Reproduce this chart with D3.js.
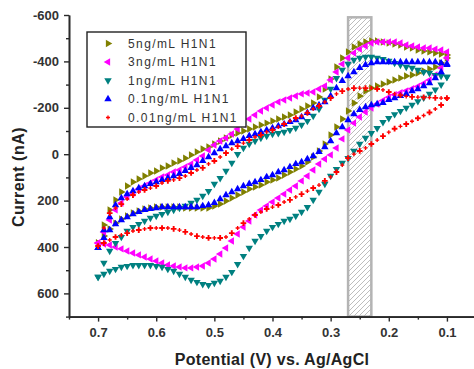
<!DOCTYPE html>
<html>
<head>
<meta charset="utf-8">
<script src="https://cdn.jsdelivr.net/npm/d3@7"></script>
<style>
  html, body { margin: 0; padding: 0; background: #fff; }
  svg { display: block; font-family: Arial, "Liberation Sans", sans-serif; }
</style>
</head>
<body>
<svg id="chart" width="474" height="369"></svg>
<script>
// scan potentials (V), shared by every branch
const potentials = [
  0.70, 0.69, 0.68, 0.67, 0.66, 0.65, 0.64, 0.63, 0.62, 0.61,
  0.60, 0.59, 0.58, 0.57, 0.56, 0.55, 0.54, 0.53, 0.52, 0.51,
  0.50, 0.49, 0.48, 0.47, 0.46, 0.45, 0.44, 0.43, 0.42, 0.41,
  0.40, 0.39, 0.38, 0.37, 0.36, 0.35, 0.34, 0.33, 0.32, 0.31,
  0.30, 0.29, 0.28, 0.27, 0.26, 0.25, 0.24, 0.23, 0.22, 0.21,
  0.20, 0.19, 0.18, 0.17, 0.16, 0.15, 0.14, 0.13, 0.12, 0.11,
  0.10
];

// current (nA), upper (cathodic) and lower branches of each loop
const fiveUpper = [
  383, 305, 240, 197, 163, 137, 120, 107, 94, 81,
  72, 59, 51, 38, 29, 17, 3, -10, -22, -31,
  -44, -57, -70, -83, -91, -100, -109, -117, -126, -134,
  -143, -152, -160, -169, -182, -195, -208, -221, -247, -281,
  -324, -376, -415, -441, -462, -475, -484, -488, -488, -484,
  -479, -475, -471, -462, -458, -449, -445, -441, -436, -432,
  -428
];
const fiveLower = [
  383, 353, 322, 297, 279, 266, 253, 245, 236, 232,
  228, 228, 228, 228, 228, 232, 232, 232, 232, 232,
  223, 215, 202, 189, 176, 163, 150, 141, 133, 120,
  111, 103, 90, 77, 64, 51, 34, 12, -14, -44,
  -83, -117, -152, -186, -221, -251, -272, -285, -294, -303,
  -311, -320, -328, -337, -341, -350, -359, -367, -376, -393,
  -415
];
const threeUpper = [
  383, 335, 284, 240, 210, 184, 167, 150, 137, 124,
  111, 98, 90, 77, 68, 55, 42, 25, 8, -18,
  -40, -57, -70, -87, -109, -130, -152, -169, -186, -199,
  -212, -225, -234, -242, -251, -260, -264, -268, -281, -294,
  -320, -354, -389, -415, -436, -453, -466, -479, -484, -484,
  -484, -484, -479, -471, -466, -462, -458, -458, -453, -449,
  -441
];
const threeLower = [
  383, 387, 391, 400, 408, 417, 426, 434, 443, 452,
  460, 469, 478, 482, 486, 490, 490, 486, 482, 469,
  452, 430, 404, 374, 344, 314, 288, 262, 240, 223,
  206, 189, 172, 154, 137, 115, 94, 68, 42, 21,
  3, -27, -66, -104, -134, -160, -182, -199, -216, -232,
  -246, -256, -265, -273, -282, -292, -305, -320, -341, -372,
  -415
];
const oneUpper = [
  529, 469, 417, 383, 357, 331, 314, 301, 288, 275,
  266, 258, 249, 240, 232, 223, 210, 197, 180, 159,
  128, 103, 72, 38, 0, -27, -44, -57, -70, -79,
  -87, -91, -96, -104, -113, -126, -143, -165, -195, -234,
  -281, -328, -363, -389, -406, -415, -419, -419, -415, -410,
  -402, -393, -385, -376, -372, -363, -354, -350, -341, -337,
  -333
];
const oneLower = [
  529, 516, 503, 495, 486, 482, 478, 478, 478, 478,
  482, 486, 495, 503, 516, 529, 542, 551, 560, 564,
  555, 546, 529, 508, 474, 439, 404, 374, 353, 331,
  314, 301, 288, 279, 266, 249, 228, 197, 163, 128,
  94, 64, 38, 17, -14, -44, -70, -91, -112, -138,
  -155, -172, -186, -200, -213, -228, -243, -260, -278, -300,
  -333
];
const pointOneUpper = [
  404, 327, 271, 219, 189, 172, 159, 146, 137, 128,
  120, 111, 103, 94, 85, 72, 59, 47, 29, 12,
  -5, -22, -35, -48, -57, -66, -79, -87, -96, -104,
  -113, -121, -130, -139, -147, -160, -178, -199, -212, -225,
  -251, -285, -316, -337, -354, -372, -385, -393, -397, -397,
  -397, -397, -397, -397, -397, -397, -397, -397, -397, -393,
  -389
];
const pointOneLower = [
  404, 361, 327, 301, 284, 271, 258, 249, 240, 236,
  232, 228, 228, 228, 228, 228, 228, 228, 223, 219,
  210, 193, 176, 163, 150, 137, 128, 120, 111, 98,
  90, 77, 68, 55, 42, 34, 21, 8, -10, -31,
  -57, -91, -117, -147, -173, -191, -203, -212, -216, -221,
  -234, -242, -251, -260, -272, -281, -294, -307, -328, -354,
  -385
];
const pointZeroOneUpper = [
  396, 318, 254, 232, 215, 193, 176, 163, 154, 146,
  137, 124, 115, 111, 103, 94, 81, 68, 59, 42,
  29, 12, -5, -22, -35, -48, -61, -74, -83, -96,
  -104, -117, -130, -143, -156, -165, -178, -195, -208, -225,
  -242, -260, -272, -281, -285, -285, -285, -285, -281, -277,
  -268, -260, -254, -249, -247, -246, -245, -244, -243, -242,
  -242
];
const pointZeroOneLower = [
  396, 383, 370, 357, 348, 340, 331, 327, 322, 318,
  318, 318, 318, 322, 327, 335, 344, 353, 357, 361,
  361, 361, 357, 340, 318, 297, 279, 262, 249, 236,
  228, 219, 206, 197, 184, 172, 159, 146, 133, 115,
  98, 77, 47, 17, 0, -14, -27, -44, -61, -78,
  -95, -110, -120, -130, -142, -155, -167, -180, -195, -212,
  -238
];

const seriesNames = ["5ng/mL H1N1", "3ng/mL H1N1", "1ng/mL H1N1", "0.1ng/mL H1N1", "0.01ng/mL H1N1"];
const seriesUpper = [fiveUpper, threeUpper, oneUpper, pointOneUpper, pointZeroOneUpper];
const seriesLower = [fiveLower, threeLower, oneLower, pointOneLower, pointZeroOneLower];

const xTicks = [0.7, 0.6, 0.5, 0.4, 0.3, 0.2, 0.1];
const xMinorTicks = [0.75, 0.65, 0.55, 0.45, 0.35, 0.25, 0.15];
const yTicks = [-600, -400, -200, 0, 200, 400, 600];
const yMinorTicks = [-500, -300, -100, 100, 300, 500, 700];

// shaded potential window
const windowRange = [0.27, 0.23];
const windowTop = -590;

const seriesColors = ["#808000", "#ff00ff", "#008080", "#0000ff", "#ff0000"];
// red crosses alternate between a big and a small glyph, like the original export
const markerShapes = [
  { type: d3.symbolTriangle, sizes: [24], rotate: 90 },
  { type: d3.symbolTriangle, sizes: [24], rotate: -90 },
  { type: d3.symbolTriangle, sizes: [24], rotate: 180 },
  { type: d3.symbolTriangle, sizes: [24], rotate: 0 },
  { type: d3.symbolCross, sizes: [18, 9], rotate: 0 },
];

const svg = d3.select("#chart");
const x = d3.scaleLinear().domain([0.75, 0.05]).range([69, 476]);
const y = d3.scaleLinear().domain([-600, 700]).range([15, 316.6]);

const defs = svg.append("defs");
defs.append("pattern")
  .attr("id", "hatch")
  .attr("patternUnits", "userSpaceOnUse")
  .attr("width", 5)
  .attr("height", 5)
  .append("path")
  .attr("d", "M-1,1 l2,-2 M0,5 l5,-5 M4,6 l2,-2")
  .attr("stroke", "#a0a0a0")
  .attr("stroke-width", 0.7);

svg.append("rect")
  .attr("x", x(windowRange[0]))
  .attr("y", y(windowTop))
  .attr("width", x(windowRange[1]) - x(windowRange[0]))
  .attr("height", y(700) - y(windowTop))
  .attr("fill", "url(#hatch)")
  .attr("stroke", "#b4b4b4")
  .attr("stroke-width", 2.5);

function symbolPath(shape, i) {
  const size = shape.sizes[i % shape.sizes.length];
  return d3.symbol().type(shape.type).size(size)();
}

const plot = svg.append("g").attr("class", "series");
seriesNames.forEach((name, s) => {
  const shape = markerShapes[s];
  const points = potentials
    .map((v, i) => ({ v, c: seriesUpper[s][i] }))
    .concat(potentials.map((v, i) => ({ v, c: seriesLower[s][i] })));
  plot.append("g")
    .selectAll("path")
    .data(points)
    .enter()
    .append("path")
    .attr("d", (d, i) => symbolPath(shape, i))
    .attr("fill", seriesColors[s])
    .attr("transform", (d) => `translate(${x(d.v)},${y(d.c)}) rotate(${shape.rotate})`);
});

// axes
function styleAxis(g) {
  g.select(".domain").attr("stroke", "#2a2a2a").attr("stroke-width", 1.6);
  g.selectAll(".tick line").attr("stroke", "#2a2a2a").attr("stroke-width", 1.4);
  g.selectAll(".tick text")
    .attr("fill", "#333")
    .attr("font-size", 13)
    .attr("font-weight", "bold");
}

svg.append("g")
  .attr("transform", `translate(0,${y(700)})`)
  .call(d3.axisBottom(x).tickValues(xTicks).tickSize(5).tickSizeOuter(0).tickPadding(6)
    .tickFormat(d3.format(".1f")))
  .call(styleAxis);
svg.append("g")
  .attr("transform", `translate(0,${y(700)})`)
  .call(d3.axisBottom(x).tickValues(xMinorTicks).tickSize(3).tickSizeOuter(0).tickFormat(""))
  .call(styleAxis);

svg.append("g")
  .attr("transform", `translate(${x(0.75)},0)`)
  .call(d3.axisLeft(y).tickValues(yTicks).tickSize(5).tickSizeOuter(0).tickPadding(5)
    .tickFormat((d) => String(d)))
  .call(styleAxis);
svg.append("g")
  .attr("transform", `translate(${x(0.75)},0)`)
  .call(d3.axisLeft(y).tickValues(yMinorTicks).tickSize(3).tickSizeOuter(0).tickFormat(""))
  .call(styleAxis);

svg.append("text")
  .attr("transform", "translate(24,177) rotate(-90)")
  .attr("text-anchor", "middle")
  .attr("font-size", 16)
  .attr("font-weight", "bold")
  .attr("letter-spacing", 0.5)
  .attr("fill", "#222")
  .text("Current (nA)");

svg.append("text")
  .attr("x", 272)
  .attr("y", 365)
  .attr("text-anchor", "middle")
  .attr("font-size", 16)
  .attr("font-weight", "bold")
  .attr("letter-spacing", 0.3)
  .attr("fill", "#222")
  .text("Potential (V) vs. Ag/AgCl");

// legend
const legend = svg.append("g").attr("class", "legend");
legend.append("rect")
  .attr("x", 87)
  .attr("y", 32)
  .attr("width", 159)
  .attr("height", 95)
  .attr("fill", "#fff")
  .attr("stroke", "#222")
  .attr("stroke-width", 1.4);

seriesNames.forEach((name, s) => {
  const cy = 43.5 + s * 18.5;
  legend.append("path")
    .attr("d", symbolPath(markerShapes[s], 1))
    .attr("fill", seriesColors[s])
    .attr("transform", `translate(108,${cy}) rotate(${markerShapes[s].rotate})`);
  legend.append("text")
    .attr("x", 128)
    .attr("y", cy + 4.3)
    .attr("font-size", 12)
    .attr("letter-spacing", 1.4)
    .attr("fill", "#333")
    .text(name);
});
</script>
</body>
</html>
